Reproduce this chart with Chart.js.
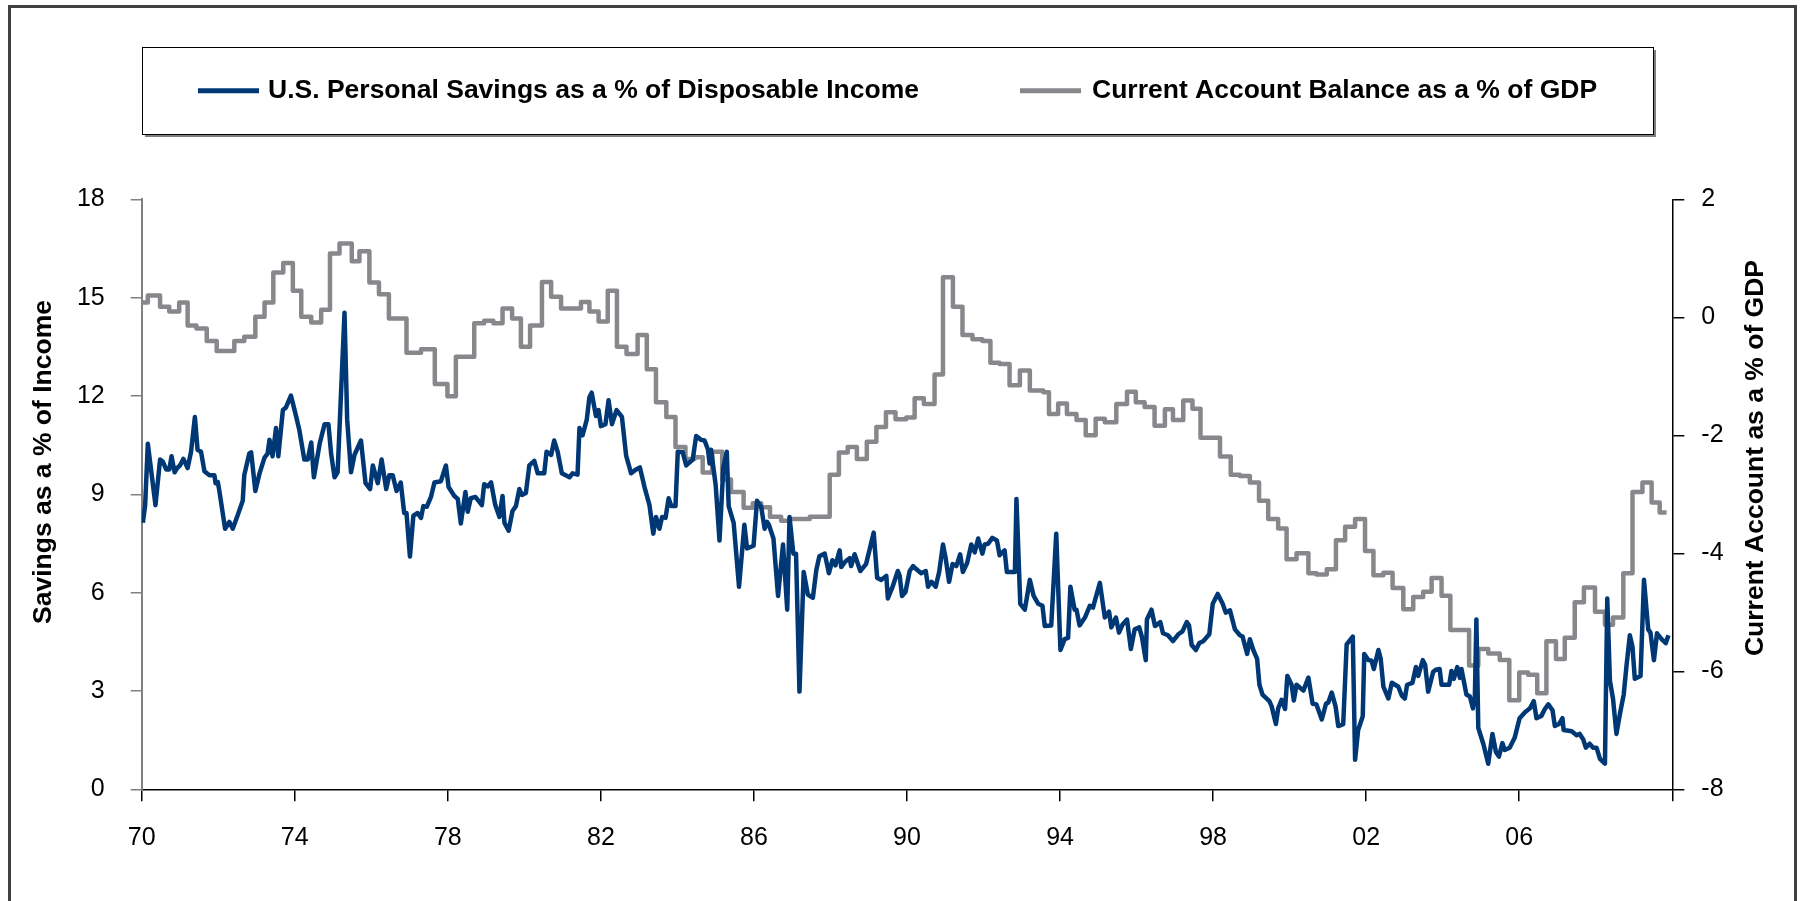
<!DOCTYPE html>
<html>
<head>
<meta charset="utf-8">
<title>Personal Savings and the Current Account</title>
<script src="https://cdn.jsdelivr.net/npm/chart.js@4.4.1/dist/chart.umd.min.js"></script>
<style>
  html, body { margin: 0; padding: 0; background: #fff; }
  #wrap { position: relative; width: 1801px; height: 901px; }
</style>
</head>
<body>
<div id="wrap"><canvas id="chart"></canvas></div>
<script>
// Personal saving rate, % of disposable income (monthly)
var savingsYears = [
  1970.03,1970.09,1970.16,1970.36,1970.48,1970.55,1970.64,1970.72,1970.78,1970.86,1970.94,
  1971.00,1971.09,1971.20,1971.29,1971.39,1971.46,1971.55,1971.64,1971.77,1971.90,1971.93,1971.99,
  1972.03,1972.18,1972.29,1972.38,1972.51,1972.64,1972.68,1972.81,1972.86,1972.97,
  1973.08,1973.21,1973.29,1973.34,1973.42,1973.51,1973.57,1973.69,1973.77,1973.90,
  1974.01,1974.12,1974.25,1974.34,1974.43,1974.50,1974.65,1974.78,1974.88,1974.95,
  1975.04,1975.12,1975.30,1975.37,1975.47,1975.56,1975.73,1975.85,1975.97,
  1976.04,1976.17,1976.27,1976.39,1976.47,1976.56,1976.66,1976.77,1976.86,1976.92,
  1977.01,1977.10,1977.21,1977.30,1977.36,1977.45,1977.56,1977.65,1977.82,1977.95,
  1978.02,1978.17,1978.26,1978.34,1978.46,1978.52,1978.60,1978.72,1978.89,1978.95,
  1979.04,1979.13,1979.24,1979.35,1979.43,1979.48,1979.59,1979.69,1979.78,1979.87,1979.94,
  1980.04,1980.13,1980.26,1980.35,1980.52,1980.58,1980.70,1980.78,1980.87,1980.98,
  1981.18,1981.26,1981.39,1981.44,1981.52,1981.63,1981.70,1981.76,1981.87,1981.94,
  1982.00,1982.12,1982.20,1982.29,1982.41,1982.55,1982.66,1982.79,1982.92,
  1983.02,1983.14,1983.27,1983.37,1983.44,1983.53,1983.60,1983.69,1983.77,1983.84,1983.95,
  1984.01,1984.14,1984.23,1984.40,1984.49,1984.62,1984.71,1984.80,1984.84,1984.88,
  1985.00,1985.10,1985.20,1985.29,1985.34,1985.47,1985.61,1985.75,1985.82,1985.99,
  1986.08,1986.19,1986.28,1986.34,1986.39,1986.51,1986.63,1986.76,1986.87,1986.93,
  1987.03,1987.10,1987.19,1987.30,1987.41,1987.54,1987.63,1987.71,1987.85,1987.96,
  1988.05,1988.13,1988.24,1988.28,1988.39,1988.50,1988.54,1988.63,1988.78,1988.93,
  1989.13,1989.22,1989.33,1989.46,1989.50,1989.63,1989.76,1989.81,1989.87,1989.96,
  1990.07,1990.16,1990.24,1990.37,1990.49,1990.55,1990.64,1990.75,1990.84,1990.94,
  1991.01,1991.10,1991.19,1991.29,1991.39,1991.46,1991.57,1991.68,1991.77,1991.86,1991.97,
  1992.03,1992.12,1992.23,1992.35,1992.42,1992.55,1992.61,1992.82,1992.86,1992.96,
  1993.08,1993.21,1993.31,1993.43,1993.54,1993.60,1993.77,1993.90,
  1994.01,1994.12,1994.21,1994.27,1994.38,1994.43,1994.51,1994.65,1994.78,1994.86,
  1995.04,1995.17,1995.28,1995.34,1995.46,1995.54,1995.63,1995.75,1995.85,1995.95,
  1996.07,1996.14,1996.24,1996.27,1996.39,1996.48,1996.62,1996.69,1996.82,1996.95,
  1997.09,1997.20,1997.31,1997.37,1997.44,1997.55,1997.64,1997.74,1997.90,1997.99,
  1998.12,1998.25,1998.33,1998.44,1998.57,1998.70,1998.77,1998.89,1998.96,
  1999.05,1999.15,1999.21,1999.29,1999.47,1999.53,1999.64,1999.70,1999.79,1999.88,1999.94,
  2000.05,2000.11,2000.18,2000.36,2000.49,2000.60,2000.70,2000.84,2000.95,
  2001.01,2001.10,2001.20,2001.27,2001.40,2001.49,2001.65,2001.71,2001.79,2001.91,2001.95,
  2002.06,2002.14,2002.20,2002.32,2002.38,2002.45,2002.58,2002.67,2002.84,2002.93,
  2003.01,2003.07,2003.21,2003.30,2003.36,2003.48,2003.54,2003.62,2003.75,2003.82,2003.92,2003.97,
  2004.17,2004.23,2004.29,2004.38,2004.45,2004.49,2004.62,2004.71,2004.79,2004.84,2004.88,2004.93,
  2005.06,2005.19,2005.30,2005.39,2005.47,2005.56,2005.62,2005.75,2005.88,
  2006.01,2006.15,2006.28,2006.38,2006.45,2006.58,2006.67,2006.76,2006.87,2006.93,
  2007.04,2007.13,2007.16,2007.37,2007.50,2007.58,2007.67,2007.74,2007.84,2007.93,
  2008.02,2008.11,2008.24,2008.30,2008.37,2008.45,2008.54,2008.63,2008.73,2008.80,2008.89,2008.96,
  2009.02,2009.17,2009.26,2009.37,2009.43,2009.52,2009.60,2009.72,2009.83,2009.90
];
var savingsPct = [
  8.13,8.67,10.54,8.67,10.06,10.00,9.76,9.76,10.16,9.67,9.82,
  9.88,10.08,9.80,10.30,11.36,10.36,10.30,9.70,9.58,9.58,9.34,9.37,
  9.10,7.95,8.16,7.95,8.37,8.80,9.58,10.24,10.28,9.10,
  9.64,10.12,10.24,10.66,10.16,11.02,10.16,11.57,11.65,12.01,
  11.50,10.96,10.06,10.06,10.58,9.52,10.54,11.14,11.14,10.24,
  9.52,9.67,14.54,11.27,9.67,10.20,10.64,9.34,9.16,
  9.88,9.34,10.06,9.16,9.58,9.58,9.10,9.36,8.43,8.43,
  7.10,8.35,8.43,8.28,8.64,8.62,8.92,9.36,9.40,9.88,
  9.22,8.95,8.86,8.11,9.07,8.47,8.88,8.92,8.67,9.31,
  9.24,9.36,8.67,8.31,8.95,8.13,7.89,8.49,8.64,9.16,8.98,
  9.04,9.88,10.02,9.64,9.64,10.30,10.20,10.64,10.30,9.64,
  9.52,9.64,9.60,11.02,10.80,11.27,11.96,12.10,11.39,11.57,
  11.08,11.14,11.87,11.14,11.57,11.36,10.18,9.64,9.76,
  9.82,9.22,8.67,7.80,8.31,7.95,8.31,8.28,8.88,8.64,8.64,
  10.30,10.28,9.88,10.06,10.78,10.66,10.64,10.36,9.94,10.36,
  9.28,7.59,9.82,10.30,8.64,8.13,6.18,8.07,7.35,7.43,
  8.80,8.61,7.95,8.16,8.07,7.65,5.90,7.47,5.48,8.31,
  7.19,7.19,2.98,6.63,5.94,5.84,6.69,7.11,7.19,6.59,
  6.99,6.83,7.29,6.78,6.95,7.05,6.81,7.17,6.66,6.87,
  7.83,6.45,6.39,6.51,5.82,6.20,6.66,6.51,5.90,6.02,
  6.66,6.81,6.72,6.59,6.66,6.18,6.33,6.18,6.63,7.47,
  7.05,6.33,6.87,6.81,7.17,6.63,6.90,7.47,7.23,7.65,7.19,
  7.47,7.49,7.67,7.59,7.14,7.29,6.63,6.63,8.86,5.66,
  5.48,6.39,5.90,5.66,5.60,4.98,5.00,7.80,
  4.25,4.58,4.62,6.18,5.48,5.48,5.00,5.24,5.60,5.54,
  6.30,5.24,5.42,4.94,5.24,4.78,5.02,5.18,4.28,4.88,
  4.94,4.64,3.94,5.18,5.48,4.98,5.10,4.76,4.70,4.52,
  4.73,4.82,5.10,5.00,4.40,4.25,4.46,4.52,4.73,5.66,
  5.96,5.66,5.39,5.46,4.88,4.70,4.66,4.13,4.58,
  4.25,3.98,3.19,2.89,2.69,2.53,1.99,2.47,2.73,2.45,3.46,
  3.19,2.71,3.19,3.01,3.41,2.61,2.59,2.13,2.61,
  2.65,2.95,2.53,1.93,1.99,4.42,4.66,0.90,1.81,2.23,4.13,
  3.94,3.92,3.67,4.25,3.98,3.13,2.77,3.25,3.13,2.86,
  2.77,3.19,3.25,3.73,3.46,3.94,3.80,2.98,3.58,3.65,3.67,3.19,
  3.19,3.61,3.37,3.73,3.40,3.67,2.89,2.83,2.47,2.83,5.18,1.87,
  1.39,0.78,1.69,1.14,1.00,1.41,1.20,1.27,1.57,
  2.17,2.35,2.47,2.69,2.17,2.24,2.45,2.59,2.41,1.93,
  1.99,2.17,1.81,1.77,1.65,1.69,1.53,1.27,1.39,1.27,
  1.27,0.93,0.78,5.82,3.31,2.77,1.69,2.29,2.89,3.73,4.70,4.34,
  3.37,3.46,6.39,4.88,4.78,3.94,4.76,4.58,4.46,4.70
];

// Current account balance, % of GDP (quarterly; each value holds until the next change)
var accountYears = [
  1970.00,1970.16,1970.48,1970.72,1970.98,1971.20,1971.43,1971.70,1971.96,1972.42,1972.68,1972.97,
  1973.21,1973.44,1973.70,1973.95,1974.17,1974.43,1974.69,1974.92,1975.17,1975.49,1975.69,1975.95,
  1976.20,1976.46,1976.92,1977.30,1977.66,1977.99,1978.21,1978.69,1978.95,1979.19,1979.43,1979.68,
  1979.91,1980.15,1980.46,1980.70,1980.96,1981.48,1981.70,1981.94,1982.18,1982.42,1982.67,1982.96,
  1983.20,1983.44,1983.71,1983.95,1984.21,1984.45,1984.66,1984.91,1985.17,1985.40,1985.73,1985.97,
  1986.19,1986.42,1986.71,1986.93,1987.46,1987.98,1988.22,1988.45,1988.69,1988.95,1989.20,1989.45,
  1989.70,1989.98,1990.20,1990.44,1990.72,1990.94,1991.20,1991.45,1991.71,1991.97,1992.18,1992.42,
  1992.68,1992.95,1993.21,1993.56,1993.71,1993.95,1994.18,1994.43,1994.67,1994.93,1995.17,1995.47,
  1995.75,1995.98,1996.21,1996.47,1996.74,1996.95,1997.22,1997.46,1997.67,1998.18,1998.46,1998.70,
  1998.96,1999.20,1999.44,1999.70,1999.92,2000.18,2000.49,2000.70,2000.97,2001.21,2001.45,2001.71,
  2001.97,2002.19,2002.45,2002.69,2002.97,2003.23,2003.49,2003.71,2003.97,2004.20,2004.69,2004.93,
  2005.19,2005.49,2005.74,2006.00,2006.23,2006.47,2006.71,2006.96,2007.19,2007.45,2007.69,2007.98,
  2008.24,2008.45,2008.72,2008.96,2009.22,2009.46,2009.67,2009.85
];
var accountPct = [
  0.25,0.37,0.18,0.10,0.25,-0.14,-0.19,-0.40,-0.57,-0.40,-0.33,0.01,
  0.25,0.76,0.92,0.45,0.01,-0.09,0.13,1.08,1.25,0.95,1.12,0.59,
  0.39,-0.02,-0.60,-0.54,-1.13,-1.34,-0.67,-0.10,-0.06,-0.10,0.15,-0.02,
  -0.50,-0.14,0.60,0.35,0.15,0.26,0.10,-0.07,0.45,-0.50,-0.62,-0.30,
  -0.88,-1.44,-1.69,-2.20,-2.40,-2.37,-2.63,-2.28,-2.75,-2.96,-3.23,-3.15,
  -3.22,-3.38,-3.45,-3.42,-3.38,-2.67,-2.29,-2.20,-2.40,-2.11,-1.86,-1.61,
  -1.73,-1.70,-1.37,-1.47,-0.97,0.68,0.18,-0.30,-0.37,-0.40,-0.77,-0.79,
  -1.15,-0.90,-1.24,-1.27,-1.64,-1.46,-1.64,-1.74,-2.00,-1.72,-1.78,-1.47,
  -1.26,-1.44,-1.52,-1.84,-1.56,-1.74,-1.41,-1.55,-2.04,-2.36,-2.67,-2.69,
  -2.80,-3.11,-3.42,-3.58,-4.10,-4.00,-4.34,-4.36,-4.27,-3.78,-3.55,-3.42,
  -3.96,-4.37,-4.33,-4.59,-4.95,-4.74,-4.65,-4.42,-4.72,-5.30,-5.90,-5.62,
  -5.70,-5.81,-6.49,-6.02,-6.06,-6.37,-5.49,-5.79,-5.43,-4.83,-4.58,-4.99,
  -5.21,-5.09,-4.34,-2.96,-2.80,-3.14,-3.31,-3.31
];

var leftTicks = [0, 3, 6, 9, 12, 15, 18];
var rightTicks = [-8, -6, -4, -2, 0, 2];
var yearTicks = [1970, 1974, 1978, 1982, 1986, 1990, 1994, 1998, 2002, 2006, 2010];

var NAVY = '#003876';
var GREY = '#88878c';
var FONT = '"Liberation Sans", Arial, Helvetica, sans-serif';
var BOLD = 'bold 26.5px ' + FONT;

Chart.defaults.font.family = FONT;
Chart.defaults.color = '#000';

function pairs(xs, ys) {
  return xs.map(function (x, i) { return { x: x, y: ys[i] }; });
}

function verticalText(ctx, text, x, y) {
  ctx.save();
  ctx.font = BOLD;
  ctx.fillStyle = '#000';
  ctx.textAlign = 'center';
  ctx.textBaseline = 'middle';
  ctx.translate(x, y);
  ctx.rotate(-Math.PI / 2);
  ctx.fillText(text, 0, 0);
  ctx.restore();
}

// white page, outer frame, boxed legend and the two rotated axis titles
var decorations = {
  id: 'decorations',
  beforeDraw: function (chart) {
    var ctx = chart.ctx;
    ctx.save();
    ctx.fillStyle = '#fff';
    ctx.fillRect(0, 0, chart.width, chart.height);

    ctx.strokeStyle = '#404040';
    ctx.lineWidth = 3;
    ctx.strokeRect(9.5, 6.5, 1786, 910);

    // legend box with its shadow
    ctx.fillStyle = '#808080';
    ctx.fillRect(145, 134, 1511, 3);
    ctx.fillRect(1654, 50, 2, 87);
    ctx.fillStyle = '#fff';
    ctx.fillRect(142.5, 47.5, 1511, 87);
    ctx.strokeStyle = '#000';
    ctx.lineWidth = 1;
    ctx.strokeRect(142.5, 47.5, 1511, 87);

    var items = [
      { lineX: 198, textX: 268 },
      { lineX: 1020, textX: 1092 }
    ];
    var cy = 90.7;
    ctx.font = BOLD;
    ctx.textBaseline = 'middle';
    ctx.textAlign = 'left';
    chart.data.datasets.forEach(function (ds, i) {
      var it = items[i];
      ctx.strokeStyle = ds.borderColor;
      ctx.lineWidth = 5;
      ctx.beginPath();
      ctx.moveTo(it.lineX, cy);
      ctx.lineTo(it.lineX + 61, cy);
      ctx.stroke();
      ctx.fillStyle = '#000';
      ctx.fillText(ds.label, it.textX, cy);
    });
    ctx.restore();
  },
  afterDraw: function (chart) {
    verticalText(chart.ctx, 'Savings as a % of Income', 44, 462);
    verticalText(chart.ctx, 'Current Account as a % of GDP', 1756, 458);
  }
};

var config = {
  type: 'line',
  data: {
    datasets: [{
      label: 'U.S. Personal Savings as a % of Disposable Income',
      data: pairs(savingsYears, savingsPct),
      yAxisID: 'y',
      borderColor: NAVY,
      backgroundColor: NAVY,
      borderWidth: 4.5,
      borderJoinStyle: 'round',
      pointRadius: 0,
      tension: 0
    }, {
      label: 'Current Account Balance as a % of GDP',
      data: pairs(accountYears, accountPct),
      yAxisID: 'y1',
      borderColor: GREY,
      backgroundColor: GREY,
      borderWidth: 4.5,
      borderJoinStyle: 'round',
      stepped: 'before',
      pointRadius: 0
    }]
  },
  options: {
    responsive: true,
    maintainAspectRatio: false,
    animation: false,
    devicePixelRatio: 1,
    layout: { padding: { top: 199.3, left: 0, right: 0, bottom: 0 } },
    plugins: {
      legend: { display: false },
      tooltip: { enabled: false }
    },
    scales: {
      x: {
        type: 'linear',
        position: 'bottom',
        min: 1970,
        max: 2010,
        afterBuildTicks: function (s) { s.ticks = yearTicks.map(function (v) { return { value: v }; }); },
        afterFit: function (s) { s.height = 901 - 789.3; },
        ticks: {
          autoSkip: false,
          maxRotation: 0,
          padding: 22,
          font: { size: 25 },
          callback: function (v) { return v === 2010 ? '' : String(v).slice(2); }
        },
        grid: { drawOnChartArea: false, drawTicks: true, tickLength: 12, color: '#000', lineWidth: 1.5 },
        border: { color: '#000', width: 1.5 }
      },
      y: {
        position: 'left',
        min: 0,
        max: 18,
        afterBuildTicks: function (s) { s.ticks = leftTicks.map(function (v) { return { value: v }; }); },
        afterFit: function (s) { s.width = 141.7; },
        ticks: { padding: 26, font: { size: 25 } },
        grid: { drawOnChartArea: false, drawTicks: true, tickLength: 11, color: '#808080', lineWidth: 1.5 },
        border: { color: '#808080', width: 2 }
      },
      y1: {
        position: 'right',
        min: -8,
        max: 2,
        afterBuildTicks: function (s) { s.ticks = rightTicks.map(function (v) { return { value: v }; }); },
        afterFit: function (s) { s.width = 1801 - 1672.3; },
        ticks: { padding: 17, font: { size: 25 } },
        grid: { drawOnChartArea: false, drawTicks: true, tickLength: 12, color: '#000', lineWidth: 1.5 },
        border: { color: '#000', width: 1.5 }
      }
    }
  },
  plugins: [decorations]
};

window.onload = function () {
  window.savingsChart = new Chart(document.getElementById('chart'), config);
};
</script>
</body>
</html>
